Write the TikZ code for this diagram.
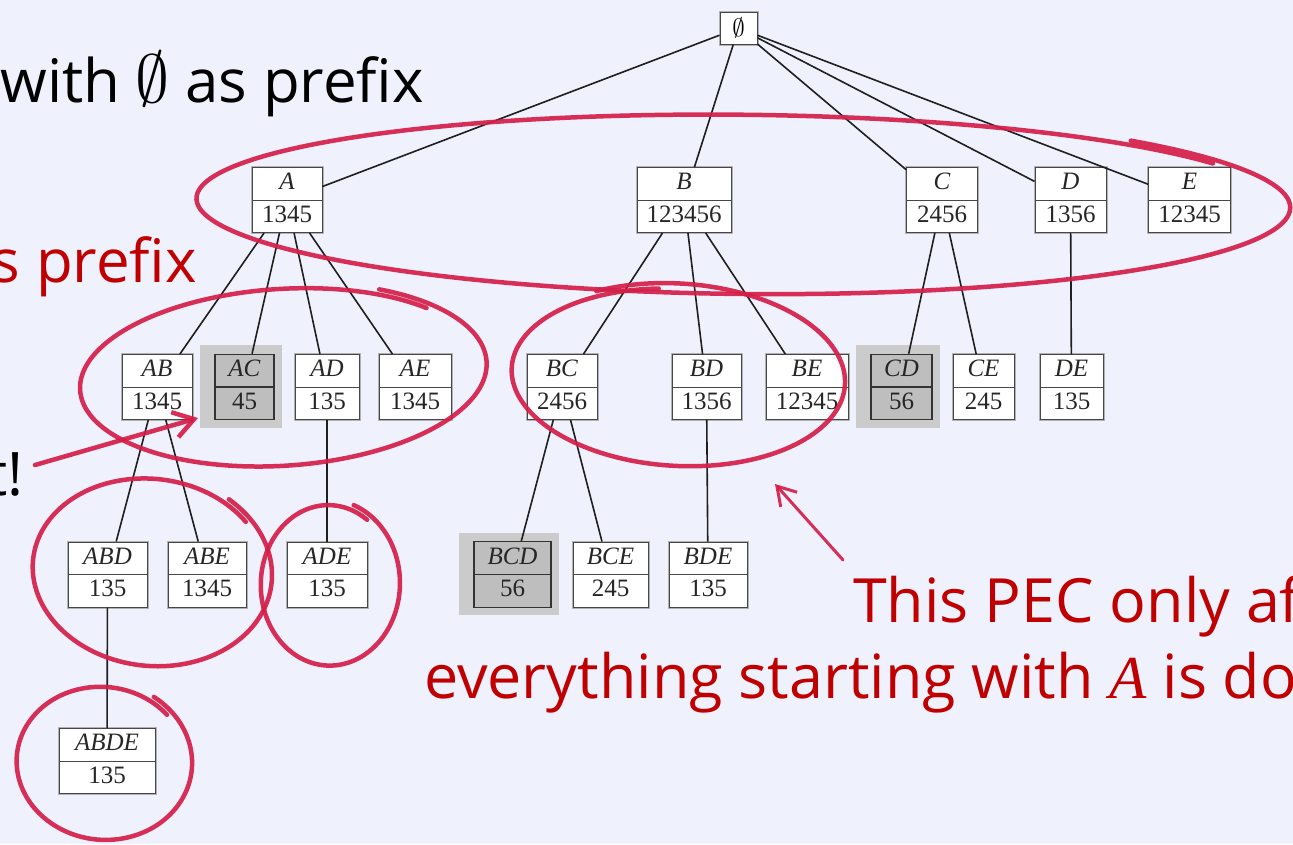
\RequirePackage{fix-cm}
\documentclass[tikz,border=0pt]{standalone}
\usepackage{fontspec}
\setmainfont{Open Sans}
\newfontfamily\tms{Liberation Serif}
\usetikzlibrary{shapes.multipart,arrows.meta}
\pgfdeclarelayer{bg}
\pgfsetlayers{bg,main}

\definecolor{slidebg}{RGB}{239,241,253}
\definecolor{pen}{RGB}{212,30,72}
\definecolor{txtred}{RGB}{192,0,0}
\definecolor{cellgray}{RGB}{190,190,190}
\definecolor{padgray}{RGB}{203,203,203}

% one search-tree entry: cell width, itemset label, tidset
\newcommand\cellstrut{\rule[-6pt]{0pt}{24pt}}
\newcommand\ent[3]{\makebox[#1pt]{\cellstrut\textit{#2}}\nodepart{two}\makebox[#1pt]{\cellstrut #3}}
% the empty-set sign in running text
\newcommand\emptysign{{\fontsize{68}{68}\selectfont$\emptyset$}}

% hand-drawn ring: centre x, centre y, radius x, radius y, tilt, start angle, end angle
\newcommand\ring[7]{%
  \draw[ringpen] plot[domain=#6:#7, samples=160, smooth]
   ({#1 + (#3-0.015*(\x-(#6)))*cos(\x)*cos(#5) - (#4-0.015*(\x-(#6)))*sin(\x)*sin(#5)},
    {#2 + (#3-0.015*(\x-(#6)))*cos(\x)*sin(#5) + (#4-0.015*(\x-(#6)))*sin(\x)*cos(#5)});}

\begin{document}
\begin{tikzpicture}[x=1pt, y=-1pt,
  cellbase/.style={rectangle split, rectangle split parts=2, inner xsep=0pt,
    inner ysep=3.75pt, font=\tms\fontsize{25}{26}\selectfont},
  cell/.style={cellbase, draw=black!72, line width=1pt, fill=white, text=black!85,
    preaction={draw=black!30, line width=3pt}},
  hot/.style={cellbase, draw=black!80, line width=1.2pt, fill=cellgray, text=black!85},
  rootbox/.style={rectangle, draw=black!72, line width=1pt, fill=white,
    minimum width=37pt, minimum height=32pt, inner sep=0pt,
    font=\tms\fontsize{25}{26}\selectfont, preaction={draw=black!30, line width=3pt}},
  link/.style={draw=black!88, line width=1.6pt},
  ringpen/.style={draw=pen, line width=4.5pt, line cap=round, line join=round, opacity=0.92},
  slide/.style={font=\fontsize{60}{64}\selectfont, inner sep=0pt},
  remark/.style={font=\fontsize{61}{66}\selectfont, inner sep=0pt, text=txtred}]

\useasboundingbox (0,0) rectangle (1293,844);
\begin{pgfonlayer}{bg}
  \fill[slidebg] (0,0) rectangle (1293,844);
\end{pgfonlayer}
\clip (0,0) rectangle (1293,844);

% slide text
\node[slide, text=black, anchor=base east] (lead) at (424,102) {with \emptysign{} as prefix};
\node[slide, text=txtred, anchor=base east] (pfx) at (197,282) {s prefix};
\node[slide, text=black, anchor=base east] (bang) at (24,495) {t!};
\node[remark, anchor=base west] (note1) at (853,622) {This PEC only after};
\node[remark, anchor=base west] (note2) at (424,698) {everything starting with {\tms\itshape A} is done};

% search tree
\node[rootbox] (root) at (738.5,28) {$\emptyset$};

\node[cell] (A) at (287,200)    {\ent{70}{A}{1345}};
\node[cell] (B) at (684,200)    {\ent{94}{B}{123456}};
\node[cell] (C) at (942,200)    {\ent{71}{C}{2456}};
\node[cell] (D) at (1070.5,200) {\ent{71}{D}{1356}};
\node[cell] (E) at (1189.5,200) {\ent{82}{E}{12345}};

\node[cell] (AB) at (157,387)   {\ent{70}{AB}{1345}};
\node[hot]  (AC) at (244.5,387) {\ent{59}{AC}{45}};
\node[cell] (AD) at (327,387)   {\ent{64}{AD}{135}};
\node[cell] (AE) at (415,387)   {\ent{72}{AE}{1345}};
\node[cell] (BC) at (562,387)   {\ent{70}{BC}{2456}};
\node[cell] (BD) at (706.5,387) {\ent{69}{BD}{1356}};
\node[cell] (BE) at (807,387)   {\ent{82}{BE}{12345}};
\node[hot]  (CD) at (901.5,387) {\ent{61}{CD}{56}};
\node[cell] (CE) at (983.5,387) {\ent{61}{CE}{245}};
\node[cell] (DE) at (1071.5,387){\ent{63}{DE}{135}};

\node[cell] (ABD) at (107.5,574.5) {\ent{79}{ABD}{135}};
\node[cell] (ABE) at (207,574.5)   {\ent{78}{ABE}{1345}};
\node[cell] (ADE) at (327,574.5)   {\ent{80}{ADE}{135}};
\node[hot]  (BCD) at (512.5,574.5) {\ent{77}{BCD}{56}};
\node[cell] (BCE) at (610.5,574.5) {\ent{75}{BCE}{245}};
\node[cell] (BDE) at (708,574.5)   {\ent{78}{BDE}{135}};

\node[cell] (ABDE) at (107,761) {\ent{96}{ABDE}{135}};

% grey pads behind the highlighted entries
\begin{pgfonlayer}{bg}
  \foreach \n in {AC,CD,BCD}
    \fill[padgray] ([xshift=-14pt,yshift=8.5pt]\n.north west) rectangle ([xshift=7.5pt,yshift=-7.5pt]\n.south east);
\end{pgfonlayer}

% tree edges
\foreach \p/\c in {root/A,root/B,root/C,root/D,root/E,
                   A/AB,A/AC,A/AD,A/AE,B/BC,B/BD,B/BE,C/CD,C/CE,D/DE,
                   AB/ABD,AB/ABE,AD/ADE,BC/BCD,BC/BCE,BD/BDE,ABD/ABDE}
  \draw[link] (\p) -- (\c);

% pen annotations
\ring{742}{203}{549}{93}{0.5}{-45}{330}
\ring{282}{376}{206}{92}{-4}{-60}{318}
\ring{677}{376}{170}{93}{3}{-120}{262}
\ring{151}{571}{122}{97}{6}{-55}{320}
\ring{329}{584}{72}{84}{0}{-70}{305}
\ring{103}{762}{90}{80}{5}{-60}{315}

\coordinate (a1s) at (35,465);
\coordinate (a1e) at (198,418);
\draw[ringpen, -{Straight Barb[length=20pt,width=26pt]}] (a1s) -- (a1e);
\coordinate (a2s) at (843,560);
\coordinate (a2e) at (775,484);
\draw[ringpen, line width=3pt, -{Straight Barb[length=18pt,width=22pt]}] (a2s) -- (a2e);
\end{tikzpicture}
\end{document}
